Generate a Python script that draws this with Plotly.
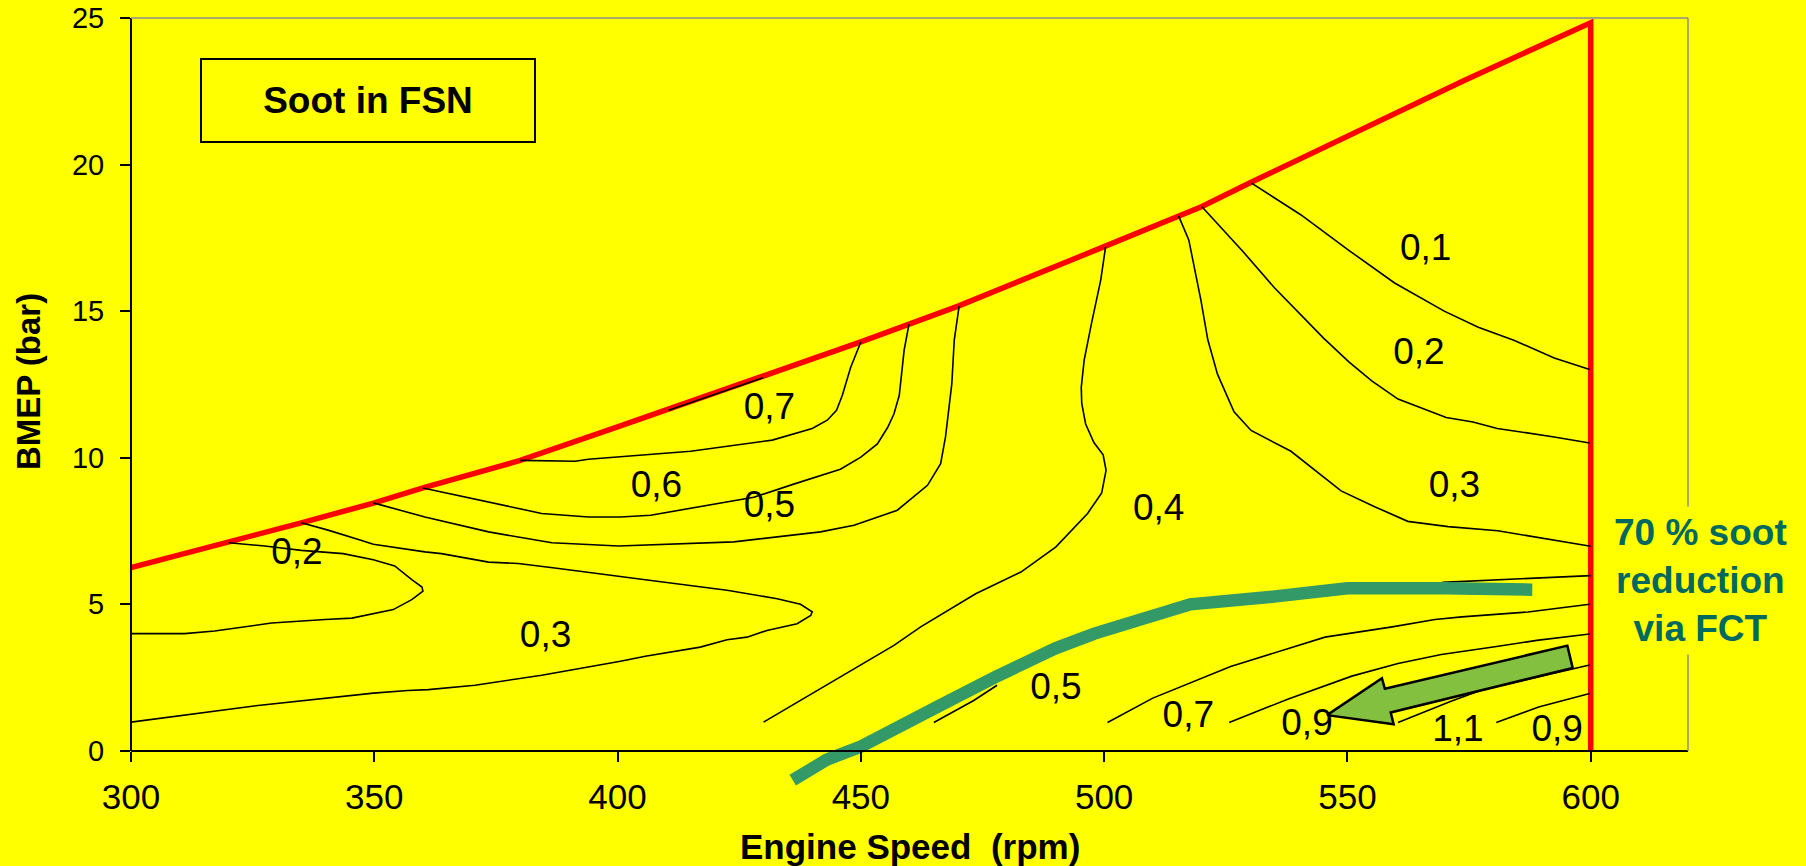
import plotly.graph_objects as go

# ---------------- data ----------------
# full-load (max BMEP) limit
fullload_x = [300, 320, 335, 350, 360, 380, 400, 450, 460, 470, 500, 520, 530, 550, 574, 600]
fullload_y = [6.25, 7.1, 7.78, 8.46, 8.97, 9.91, 11.05, 13.95, 14.55, 15.17, 17.2, 18.56, 19.38, 20.95, 22.87, 24.84]

# iso-soot contour lines (FSN)
c02_left_x = [320.1, 327.5, 335, 343.6, 349.8, 354.2, 357.7, 359.8, 360, 357.7, 353.9, 349.5, 345.4, 339.9, 328.9, 317.2, 311, 300]
c02_left_y = [7.1, 6.99, 6.84, 6.73, 6.52, 6.31, 5.84, 5.59, 5.45, 5.16, 4.82, 4.68, 4.53, 4.48, 4.36, 4.09, 4.0, 4.0]

c03_left_x = [335, 340.5, 347.4, 349.8, 360.4, 363.8, 373.5, 379.6, 387.9, 400.6, 405.7, 422.5, 432.8, 437.6, 440, 439.7,
              436.9, 430.7, 426.6, 422.5, 417, 405.7, 400.6, 384.4, 370.7, 361.1, 356.9, 349.8, 338.5, 326.1, 300]
c03_left_y = [7.78, 7.53, 7.18, 7.05, 6.79, 6.73, 6.44, 6.39, 6.22, 5.96, 5.84, 5.48, 5.19, 5.0, 4.74, 4.62,
              4.34, 4.11, 3.88, 3.79, 3.54, 3.23, 3.06, 2.58, 2.24, 2.09, 2.06, 1.97, 1.78, 1.55, 0.98]

c05_x = [349.8, 360.4, 373.5, 386.5, 400.2, 423.9, 441.7, 448.6, 457.5, 463.7, 466.4, 467.4, 468.7, 469.2, 470.2]
c05_y = [8.46, 7.98, 7.47, 7.1, 6.99, 7.13, 7.47, 7.70, 8.21, 9.06, 9.8, 10.71, 12.53, 14.01, 15.17]

c06_x = [360, 384.4, 394, 400.6, 406.8, 419.1, 428, 436.2, 445.8, 450, 453.4, 455.5, 456.8, 457.9, 458.9, 459.9]
c06_y = [8.97, 8.1, 7.98, 7.98, 8.04, 8.38, 8.65, 9.1, 9.61, 10.02, 10.47, 11.03, 11.49, 12.13, 13.67, 14.56]

c07_x = [380, 391.3, 394, 400.6, 415, 431.8, 440, 443.1, 445, 446.2, 447.9, 450]
c07_y = [9.91, 9.88, 9.95, 10.03, 10.22, 10.6, 11.0, 11.28, 11.62, 12.13, 13.08, 13.95]

c07_edge_x = [410.5, 429.9]
c07_edge_y = [11.62, 12.73]

c04_x = [500.3, 499.3, 497.3, 495.9, 495.3, 495.4, 496.2, 497.9, 499.8, 500.4, 499.5, 496.6, 490.1, 482.9, 473.6, 462.3, 456.8, 430]
c04_y = [17.19, 16.06, 14.5, 13.33, 12.4, 11.85, 11.15, 10.52, 10.1, 9.57, 8.8, 8.1, 6.96, 6.1, 5.36, 4.23, 3.6, 0.98]

c01_right_x = [530.3, 540.4, 550.5, 559.7, 569.9, 576.9, 584.2, 592.5, 599.8]
c01_right_y = [19.37, 18.29, 17.05, 15.96, 15.0, 14.45, 14.01, 13.4, 13.01]

c02_right_x = [520.1, 528.3, 535, 540.2, 545.1, 550.3, 555, 560.4, 570.3, 575.8, 580.8, 592.5, 599.8]
c02_right_y = [18.56, 17.08, 15.8, 14.92, 14.08, 13.27, 12.62, 12.0, 11.37, 11.22, 11.0, 10.71, 10.5]

c03_right_x = [515.3, 517.4, 519.9, 521.3, 523.3, 526.7, 530.2, 538.4, 548.7, 555.6, 562.4, 570.7, 580.9, 600]
c03_right_y = [18.25, 17.43, 15.37, 14.03, 12.85, 11.57, 10.93, 10.22, 8.87, 8.33, 7.83, 7.65, 7.51, 6.98]

c06_low_x = [465, 473.2, 478]
c06_low_y = [0.97, 1.72, 2.24]

c06_right_x = [569.5, 600]
c06_right_y = [5.75, 5.98]

c08_x = [500.7, 510, 526, 545.4, 559.2, 568, 573.5, 587.1, 599.8]
c08_y = [0.97, 1.8, 2.88, 3.88, 4.23, 4.48, 4.57, 4.74, 5.0]

c10_x = [525.7, 538, 550.9, 560.4, 569.3, 577, 580.3, 588.9, 599.8]
c10_y = [0.97, 1.78, 2.55, 2.98, 3.29, 3.49, 3.55, 3.77, 3.99]

c12_x = [560.4, 571.3, 578, 599.8]
c12_y = [0.97, 1.69, 2.1, 2.93]

c10b_x = [580.6, 589.3, 599.8]
c10b_y = [0.97, 1.5, 1.96]

# FCT-shifted 0.6 soot line (green)
fct_x = [436, 443, 450, 457.5, 465.7, 477.4, 483, 490, 498, 507.5, 517.7, 534, 550, 570, 588]
fct_y = [-1.0, -0.3, 0.15, 0.85, 1.5, 2.5, 2.95, 3.5, 4.0, 4.5, 5.0, 5.25, 5.55, 5.55, 5.5]

# block arrow outline
arrow_x = [545.8, 557.1, 557.7, 595.2, 596.3, 558.9, 559.5, 545.8]
arrow_y = [1.22, 2.48, 2.12, 3.59, 2.83, 1.31, 0.91, 1.22]

# contour labels
label_text = ["0,1", "0,2", "0,3", "0,4", "0,7", "0,6", "0,5", "0,2", "0,3", "0,5", "0,7", "0,9", "1,1", "0,9"]
label_x = [566.1, 564.7, 572, 511.2, 431.2, 408, 431.2, 334.1, 385.2, 490.1, 517.3, 541.7, 572.7, 593.1]
label_y = [17.07, 13.52, 8.99, 8.2, 11.63, 8.99, 8.28, 6.7, 3.86, 2.09, 1.14, 0.87, 0.67, 0.67]

x_ticks = [300, 350, 400, 450, 500, 550, 600]
y_ticks = [0, 5, 10, 15, 20, 25]

# ---------------- figure ----------------
FONT = "Liberation Sans, Arial, sans-serif"
YELLOW = "#FFFF00"
Y_MIN, Y_MAX = -1.3, 25
axis_pos = (0 - Y_MIN) / (Y_MAX - Y_MIN)

fig = go.Figure()

# red full-load limit plus the 600 rpm limit
fig.add_trace(go.Scatter(x=fullload_x + [fullload_x[-1]], y=fullload_y + [0], mode="lines",
                         line=dict(color="#FF0000", width=5.5), hoverinfo="skip", showlegend=False))

contours = [
    (c02_left_x, c02_left_y), (c03_left_x, c03_left_y), (c05_x, c05_y), (c06_x, c06_y),
    (c07_x, c07_y), (c07_edge_x, c07_edge_y), (c04_x, c04_y), (c01_right_x, c01_right_y),
    (c02_right_x, c02_right_y), (c03_right_x, c03_right_y), (c06_low_x, c06_low_y),
    (c06_right_x, c06_right_y), (c08_x, c08_y), (c10_x, c10_y), (c12_x, c12_y), (c10b_x, c10b_y),
]
for cx, cy in contours:
    fig.add_trace(go.Scatter(x=cx, y=cy, mode="lines", line=dict(color="black", width=1.6),
                             hoverinfo="skip", showlegend=False))

fig.add_trace(go.Scatter(x=fct_x, y=fct_y, mode="lines", line=dict(color="#339966", width=12.5),
                         hoverinfo="skip", showlegend=False))

fig.add_trace(go.Scatter(x=arrow_x, y=arrow_y, mode="lines", fill="toself", fillcolor="#84C040",
                         line=dict(color="black", width=2.5), hoverinfo="skip", showlegend=False))

fig.add_trace(go.Scatter(x=label_x, y=label_y, mode="text", text=label_text,
                         textfont=dict(family=FONT, size=37, color="black"),
                         hoverinfo="skip", showlegend=False))

# frame: left axis line, grey top and right border
fig.add_shape(type="line", xref="paper", yref="paper", x0=0, x1=0, y0=axis_pos, y1=1,
              line=dict(color="black", width=2))
fig.add_shape(type="line", xref="paper", yref="paper", x0=0, x1=1, y0=1, y1=1,
              line=dict(color="#8C8C8C", width=1.5))
fig.add_shape(type="line", xref="paper", yref="paper", x0=1, x1=1, y0=axis_pos, y1=1,
              line=dict(color="#8C8C8C", width=1.5))

# "Soot in FSN" box
fig.add_annotation(x=348.8, y=22.17, xref="x", yref="y", text="<b>Soot in FSN</b>", showarrow=False,
                   font=dict(family=FONT, size=37, color="black"), width=332, height=81,
                   bordercolor="black", borderwidth=2, borderpad=0, bgcolor=YELLOW)

# side note
fig.add_annotation(x=1.0083, y=0.271, xref="paper", yref="paper",
                   text="<b>70 % soot<br>reduction<br>via FCT</b>", showarrow=False,
                   font=dict(family=FONT, size=37, color="#00695F"), bgcolor=YELLOW, borderpad=5,
                   xanchor="center", yanchor="middle", align="center")

# axis titles
fig.add_annotation(x=0.5003, y=-0.0752, xref="paper", yref="paper",
                   text="<b>Engine Speed\u00a0\u00a0(rpm)</b>", showarrow=False,
                   font=dict(family=FONT, size=35, color="black"), xanchor="center", yanchor="middle")
fig.add_annotation(x=-0.0662, y=0.529, xref="paper", yref="paper", text="<b>BMEP (bar)</b>",
                   showarrow=False, textangle=-90,
                   font=dict(family=FONT, size=33, color="black"), xanchor="center", yanchor="middle")

fig.update_layout(
    width=1806, height=866,
    margin=dict(l=131, r=118, t=18, b=77, autoexpand=False),
    paper_bgcolor=YELLOW, plot_bgcolor=YELLOW,
    font=dict(family=FONT, color="black"),
    xaxis=dict(range=[300, 620], tickvals=x_ticks, ticks="outside", ticklen=10, tickwidth=2,
               tickcolor="black", showline=True, linecolor="black", linewidth=2,
               anchor="free", position=axis_pos, showgrid=False, zeroline=False,
               automargin=False, ticklabelstandoff=5,
               tickfont=dict(family=FONT, size=35, color="black")),
    yaxis=dict(range=[Y_MIN, Y_MAX], tickvals=y_ticks, ticks="outside", ticklen=10, tickwidth=2,
               tickcolor="black", showline=False, showgrid=False, zeroline=False,
               automargin=False, ticklabelstandoff=10,
               tickfont=dict(family=FONT, size=29, color="black")),
)

fig.write_html("out.html", config={"displayModeBar": False},
               post_script="document.body.style.margin='0';document.body.style.overflow='hidden';")
